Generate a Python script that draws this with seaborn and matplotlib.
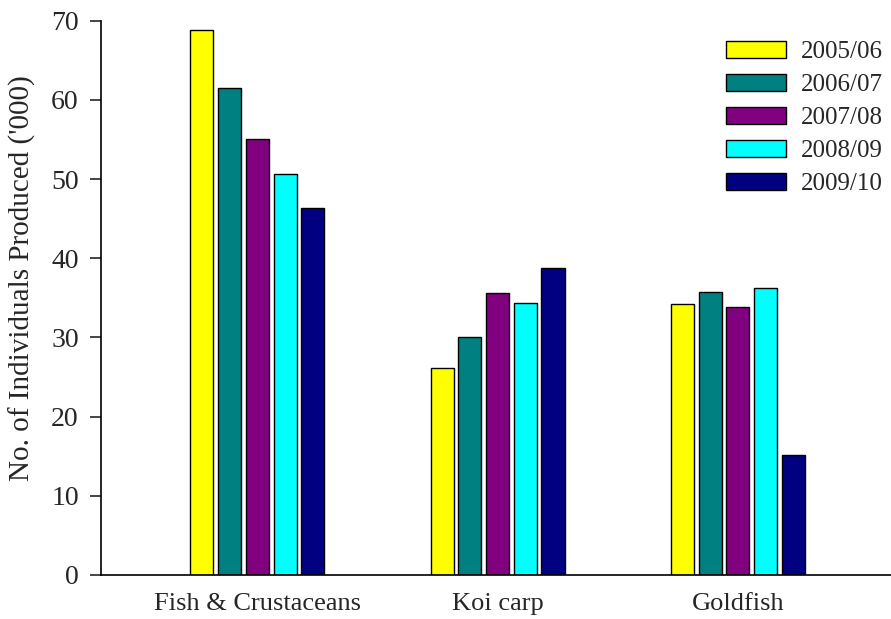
import matplotlib
matplotlib.use("Agg")
import matplotlib.pyplot as plt
import seaborn as sns
import pandas as pd

# Production by category and season (thousands of individuals)
categories = ["Fish & Crustaceans", "Koi carp", "Goldfish"]
seasons = ["2005/06", "2006/07", "2007/08", "2008/09", "2009/10"]
v_2005_06 = [68.8, 26.2, 34.2]
v_2006_07 = [61.5, 30.1, 35.8]
v_2007_08 = [55.1, 35.6, 33.9]
v_2008_09 = [50.6, 34.3, 36.2]
v_2009_10 = [46.3, 38.8, 15.1]
season_colors = ["#FFFF00", "#008080", "#800080", "#00FFFF", "#000080"]
y_ticks = [0, 10, 20, 30, 40, 50, 60, 70]

series = [v_2005_06, v_2006_07, v_2007_08, v_2008_09, v_2009_10]
rows = []
for season, vals in zip(seasons, series):
    for cat, v in zip(categories, vals):
        rows.append({"Category": cat, "Season": season, "Value": v})
df = pd.DataFrame(rows)

sns.set_style("ticks")
plt.rcParams["font.family"] = ["Liberation Serif", "DejaVu Serif"]
plt.rcParams["font.size"] = 20

W, H = 891, 619
fig = plt.figure(figsize=(W / 100, H / 100), dpi=100)
ax = fig.add_axes([101 / W, 44 / H, 1 - 101 / W, (575 - 20.7) / H])

sns.barplot(
    data=df, x="Category", y="Value", hue="Season",
    order=categories, hue_order=seasons,
    palette=season_colors, width=0.577, gap=0.17,
    edgecolor="black", linewidth=1.0, saturation=1,
    errorbar=None, ax=ax, legend=True,
)

ax.set_ylim(0, 70)
ax.set_yticks(y_ticks)
ax.set_xlim(-0.651, 2.638)
ax.set_xlabel("")
ax.set_ylabel("No. of Individuals Produced ('000)", fontsize=21)
ax.yaxis.set_label_coords((22 - 101) / (W - 101), (575 - 278) / (575 - 20.7))
ax.yaxis.label.set_verticalalignment("center")
ax.tick_params(axis="y", direction="out", length=8, width=1.2, pad=8, labelsize=20)
ax.tick_params(axis="x", length=0, pad=13, labelsize=19)

for side in ["top", "right"]:
    ax.spines[side].set_visible(False)
for side in ["left", "bottom"]:
    ax.spines[side].set_linewidth(1.2)
    ax.spines[side].set_color("black")

handles, labels = ax.get_legend_handles_labels()
ax.legend(
    handles, labels, loc="upper right",
    bbox_to_anchor=(1.0 - 8 / W, 1.0 - 41 / H), bbox_transform=fig.transFigure,
    frameon=False, fontsize=18, handlelength=2.4, handleheight=0.64,
    handletextpad=0.6, labelspacing=0.44, borderaxespad=0, borderpad=0,
)

fig.savefig("out.png", dpi=100, facecolor="white")
